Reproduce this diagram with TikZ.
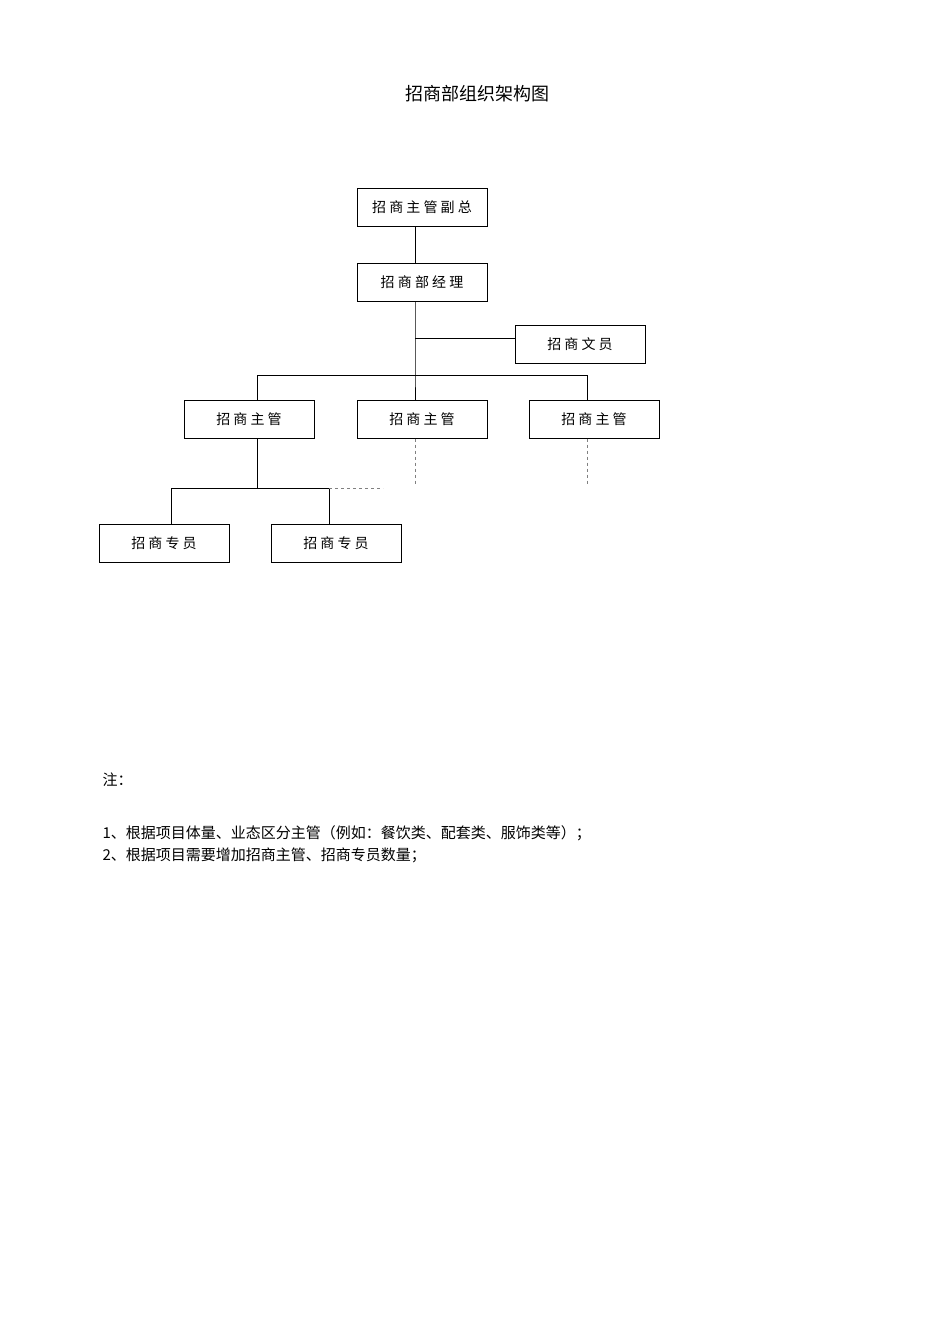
\documentclass[tikz,border=0pt]{standalone}
\usepackage{fontspec}
\newfontfamily\cjk{Noto Sans CJK SC}
\begin{document}
\begin{tikzpicture}[x=1pt,y=-1pt,
  bx/.style={draw,line width=1pt,minimum width=130pt,minimum height=38pt,inner sep=0pt,font=\cjk\fontsize{14}{16}\selectfont},
  ln/.style={line width=1pt},
  dl/.style={line width=1pt,dashed,gray}]
\useasboundingbox (0,0) rectangle (950,1344);
\fill[white] (0,0) rectangle (950,1344);
\node[font=\cjk\fontsize{18}{20}\selectfont] (title) at (477,94) {招商部组织架构图};
\node[bx] (vp) at (422,207) {招 商 主 管 副 总};
\node[bx] (mg) at (422,282) {招 商 部 经 理};
\node[bx] (ck) at (580,344) {招 商 文 员};
\node[bx] (s1) at (249,419) {招 商 主 管};
\node[bx] (s2) at (422,419) {招 商 主 管};
\node[bx] (s3) at (594,419) {招 商 主 管};
\node[bx] (p1) at (164,543) {招 商 专 员};
\node[bx] (p2) at (336,543) {招 商 专 员};
\coordinate (j1) at (415,338);
\coordinate (j2) at (415,375);
\coordinate (bl) at (257,375);
\coordinate (br) at (587,375);
\draw[ln] (vp.south -| 415,0) -- (mg.north -| 415,0);
\draw[ln] (mg.south -| 415,0) -- (j2) -- (s2.north -| 415,0);
\draw[ln] (j1) -- (ck.west |- j1);
\draw[ln] (bl) -- (br);
\draw[ln] (bl) -- (s1.north -| bl);
\draw[ln] (br) -- (s3.north -| br);
\coordinate (d2) at (415,485);
\coordinate (d3) at (587,485);
\draw[dl] (s2.south -| d2) -- (d2);
\draw[dl] (s3.south -| d3) -- (d3);
\coordinate (k0) at (257,488);
\coordinate (kl) at (171,488);
\coordinate (kr) at (329,488);
\coordinate (kd) at (383,488);
\draw[ln] (s1.south -| k0) -- (k0);
\draw[ln] (kl) -- (kr);
\draw[ln] (kl) -- (p1.north -| kl);
\draw[ln] (kr) -- (p2.north -| kr);
\draw[dl] (kr) -- (kd);
\node[anchor=west,font=\cjk\fontsize{15}{17}\selectfont] (n0) at (99,780) {注：};
\node[anchor=west,font=\cjk\fontsize{15}{17}\selectfont] (n1) at (99,833) {1、根据项目体量、业态区分主管（例如：餐饮类、配套类、服饰类等）；};
\node[anchor=west,font=\cjk\fontsize{15}{17}\selectfont] (n2) at (99,855) {2、根据项目需要增加招商主管、招商专员数量；};
\end{tikzpicture}
\end{document}
